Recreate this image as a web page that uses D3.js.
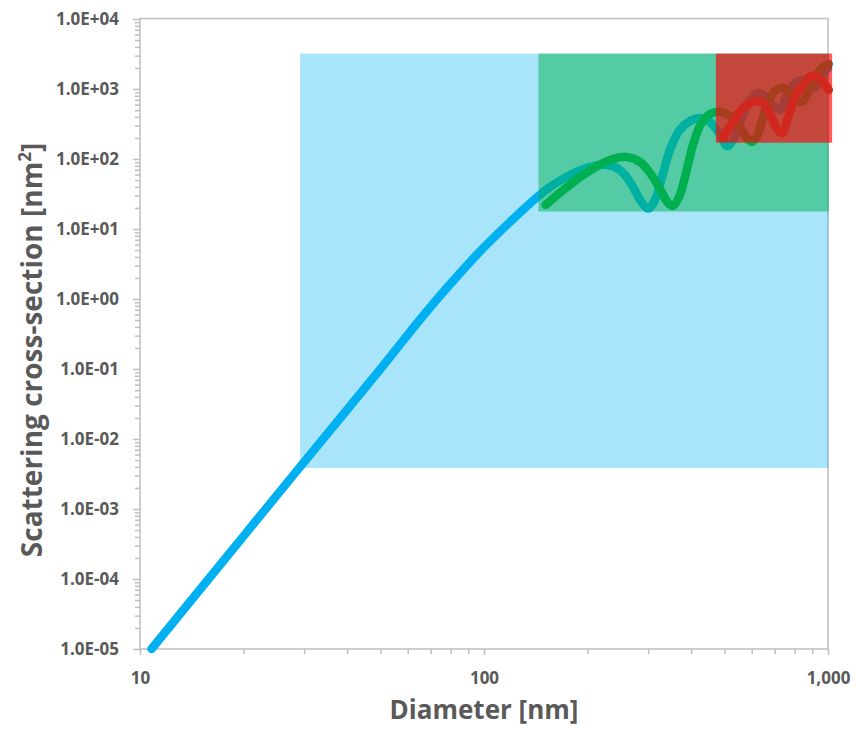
<!DOCTYPE html>
<html>
<head>
<meta charset="utf-8">
<script src="https://cdn.jsdelivr.net/npm/d3@7"></script>
<style>
body { margin: 0; background: #fff; }
text { font-family: "Open Sans", sans-serif; font-weight: bold; fill: #595959; }
</style>
</head>
<body>
<svg id="chart" width="856" height="731"></svg>
<script>
// diameter [nm], scattering cross-section [nm^2]
var blueCurve = [
    [10.8, 1.0e-5], [20, 4.1e-4], [29.2, 4.0e-3], [50, 0.10], [65, 0.50], [78, 1.44],
    [97, 4.7], [119, 12.6], [144, 29.6], [156, 40], [178, 59], [203, 77], [222, 83],
    [240, 77], [257, 59], [271, 40], [286, 25], [300, 19.6], [314, 26], [329, 54],
    [347, 134], [371, 260], [397, 349], [425, 385], [454, 338], [482, 235], [509, 153],
    [530, 187], [562, 385], [593, 700], [626, 877], [660, 769], [697, 571], [725, 500],
    [760, 820], [802, 1220], [840, 1345], [881, 1180], [917, 1030], [961, 1530], [1000, 2000]
];
var greenCurve = [
    [151, 22], [170, 36], [190, 55], [213, 79], [237, 100], [260, 107], [284, 91],
    [304, 63], [325, 37], [343, 23.5], [354, 21.3], [369, 28.6], [387, 65], [405, 158],
    [427, 316], [454, 440], [485, 469], [519, 411], [555, 287], [581, 200], [601, 175],
    [622, 213], [647, 385], [674, 697], [706, 967], [740, 1033], [776, 877], [813, 697],
    [840, 652], [875, 877], [917, 1480], [961, 2000], [1005, 2280]
];
var redCurve = [
    [495, 200], [530, 338], [566, 535], [605, 652], [626, 674], [656, 590], [683, 411],
    [711, 268], [735, 235], [765, 385], [802, 769], [846, 1140], [892, 1530], [929, 1480],
    [967, 1260], [1005, 970]
];

// shaded ranges: [dMin, dMax], [sMin, sMax]
var blueBox = [[29.2, 1003], [3.85e-3, 3200]];
var greenBox = [[144, 1005], [17.8, 3200]];
var redBox = [[472, 1028], [171, 3200]];

var yTickLabels = ['1.0E-05', '1.0E-04', '1.0E-03', '1.0E-02', '1.0E-01',
                   '1.0E+00', '1.0E+01', '1.0E+02', '1.0E+03', '1.0E+04'];
var xTickLabels = ['10', '100', '1,000'];

var svg = d3.select('#chart');

var x = d3.scaleLog().domain([10, 1000]).range([140, 828]);
var y = d3.scaleLog().domain([1e-5, 1e4]).range([649, 19]);

var line = d3.line()
    .x(d => x(d[0]))
    .y(d => y(d[1]))
    .curve(d3.curveCatmullRom.alpha(0.5));

// axes
var yMajor = d3.range(-5, 5).map(e => Math.pow(10, e));
var yMinor = [];
d3.range(-5, 4).forEach(e => d3.range(2, 10).forEach(k => yMinor.push(k * Math.pow(10, e))));
var xMajor = [10, 100, 1000];
var xMinor = [];
[1, 2].forEach(e => d3.range(2, 10).forEach(k => xMinor.push(k * Math.pow(10, e))));

function styleAxis(g) {
    g.select('.domain').remove();
    g.selectAll('line').attr('stroke', '#bfbfbf').attr('stroke-width', 1.5);
}

svg.append('g').attr('transform', 'translate(140,0)')
    .call(d3.axisLeft(y).tickValues(yMinor).tickSize(5).tickFormat(''))
    .call(styleAxis);
svg.append('g').attr('transform', 'translate(140,0)')
    .call(d3.axisLeft(y).tickValues(yMajor).tickSize(7).tickPadding(14)
        .tickFormat((d, i) => yTickLabels[i]))
    .call(styleAxis)
    .selectAll('text').attr('font-size', 17).attr('fill', '#595959');

svg.append('g').attr('transform', 'translate(0,649)')
    .call(d3.axisBottom(x).tickValues(xMinor).tickSize(5).tickFormat(''))
    .call(styleAxis);
svg.append('g').attr('transform', 'translate(0,649)')
    .call(d3.axisBottom(x).tickValues(xMajor).tickSize(6).tickPadding(17)
        .tickFormat((d, i) => xTickLabels[i]))
    .call(styleAxis)
    .selectAll('text').attr('font-size', 17).attr('fill', '#595959');

// frame
svg.append('rect')
    .attr('x', 140).attr('y', 18.5)
    .attr('width', 688).attr('height', 630.5)
    .attr('fill', 'none').attr('stroke', '#bfbfbf').attr('stroke-width', 1.5);

function box(b, color, op) {
    svg.append('rect')
        .attr('x', x(b[0][0])).attr('y', y(b[1][1]))
        .attr('width', x(b[0][1]) - x(b[0][0]))
        .attr('height', y(b[1][0]) - y(b[1][1]))
        .attr('fill', color).attr('fill-opacity', op);
}

function curve(data, color) {
    svg.append('path').datum(data)
        .attr('d', line)
        .attr('fill', 'none')
        .attr('stroke', color)
        .attr('stroke-width', 8.5)
        .attr('stroke-linecap', 'round')
        .attr('stroke-linejoin', 'round');
}

box(blueBox, '#00b0f0', 0.34);
curve(blueCurve, '#00b0f0');
box(greenBox, '#00b050', 0.5);
curve(greenCurve, '#00b050');
box(redBox, '#ff0000', 0.65);
curve(redCurve, '#d0281e');

// axis titles
svg.append('text')
    .attr('x', 484).attr('y', 719)
    .attr('text-anchor', 'middle')
    .attr('font-size', 26)
    .text('Diameter [nm]');

var yt = svg.append('text')
    .attr('transform', 'translate(42,350) rotate(-90)')
    .attr('text-anchor', 'middle')
    .attr('font-size', 28);
yt.append('tspan').text('Scattering cross-section [nm');
yt.append('tspan').attr('font-size', 17).attr('dy', -11).text('2');
yt.append('tspan').attr('dy', 11).text(']');
</script>
</body>
</html>
